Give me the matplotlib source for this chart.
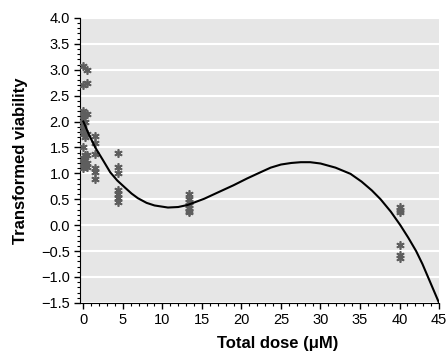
import matplotlib
matplotlib.use('Agg')
import matplotlib.pyplot as plt
from matplotlib.ticker import MultipleLocator

plt.rcParams['font.family'] = ['Liberation Sans Narrow', 'Liberation Sans', 'DejaVu Sans']

# observed viability, grouped by dose
doses = [0.0, 0.16, 0.49, 1.48, 4.44, 13.33, 40.0]
values = [
    [3.08, 2.70, 2.20, 2.10, 2.05, 1.95, 1.85, 1.75, 1.50, 1.30, 1.20, 1.10],
    [2.15, 2.00, 1.70, 1.35, 1.25, 1.15],
    [3.00, 2.75, 2.15, 1.75, 1.35, 1.20, 1.12],
    [1.73, 1.58, 1.38, 1.10, 1.02, 0.90],
    [1.40, 1.12, 1.00, 0.68, 0.60, 0.52, 0.45],
    [0.60, 0.50, 0.44, 0.38, 0.33, 0.28, 0.25],
    [0.35, 0.30, 0.25, -0.38, -0.58, -0.63],
]

# fitted curve
fit_x = [0, 0.7, 1.5, 2.5, 3.4, 4.3, 5.3, 6.1, 6.9, 8.0, 9.0, 10.7, 12.0, 13.2,
         15.3, 17.0, 19.0, 20.7, 22.4, 23.7, 25.0, 26.3, 27.5, 28.7, 30.0, 31.9,
         33.8, 35.2, 36.5, 37.6, 38.9, 40.1, 41.1, 42.1, 42.9, 43.6, 44.3, 45.0]
fit_y = [2.0, 1.75, 1.5, 1.25, 1.02, 0.86, 0.72, 0.61, 0.52, 0.43, 0.38, 0.34,
         0.35, 0.39, 0.51, 0.63, 0.77, 0.90, 1.02, 1.11, 1.17, 1.20, 1.215, 1.215,
         1.19, 1.11, 0.99, 0.84, 0.67, 0.50, 0.26, 0.0, -0.24, -0.50, -0.75,
         -1.00, -1.25, -1.50]

fig = plt.figure(figsize=(4.48, 3.58), dpi=100)
ax = fig.add_axes([0.179, 0.154, 0.801, 0.796])
ax.set_facecolor('#e6e6e6')

for d, vals in zip(doses, values):
    ax.plot([d] * len(vals), vals, linestyle='none', marker=(6, 2, 0),
            markersize=6, markeredgewidth=1.2, color='#5e5e5e', zorder=3)

ax.plot(fit_x, fit_y, color='black', linewidth=1.5, zorder=4)

ax.set_xlim(-0.4, 45)
ax.set_ylim(-1.5, 4.0)
ax.xaxis.set_major_locator(MultipleLocator(5))
ax.xaxis.set_minor_locator(MultipleLocator(1))
ax.yaxis.set_major_locator(MultipleLocator(0.5))
ax.yaxis.set_minor_locator(MultipleLocator(0.1))
ax.yaxis.grid(True, which='major', color='white', linewidth=1.5)
ax.set_axisbelow(True)
ax.yaxis.set_major_formatter(plt.FuncFormatter(lambda v, p: f'{v:.1f}'.replace('-', '\u2212')))

for s in ['top', 'right']:
    ax.spines[s].set_visible(False)
ax.tick_params(which='major', direction='out', length=4, width=1, labelsize=10.5)
ax.tick_params(which='minor', direction='out', length=2, width=0.8)

ax.set_xlabel('Total dose (\u03bcM)', fontsize=12, fontweight='bold')
ax.xaxis.set_label_coords(0.55, -0.115)
ax.set_ylabel('Transformed viability', fontsize=12, fontweight='bold')
ax.yaxis.set_label_coords(-0.145, 0.5)

fig.savefig('out.png', dpi=100)
